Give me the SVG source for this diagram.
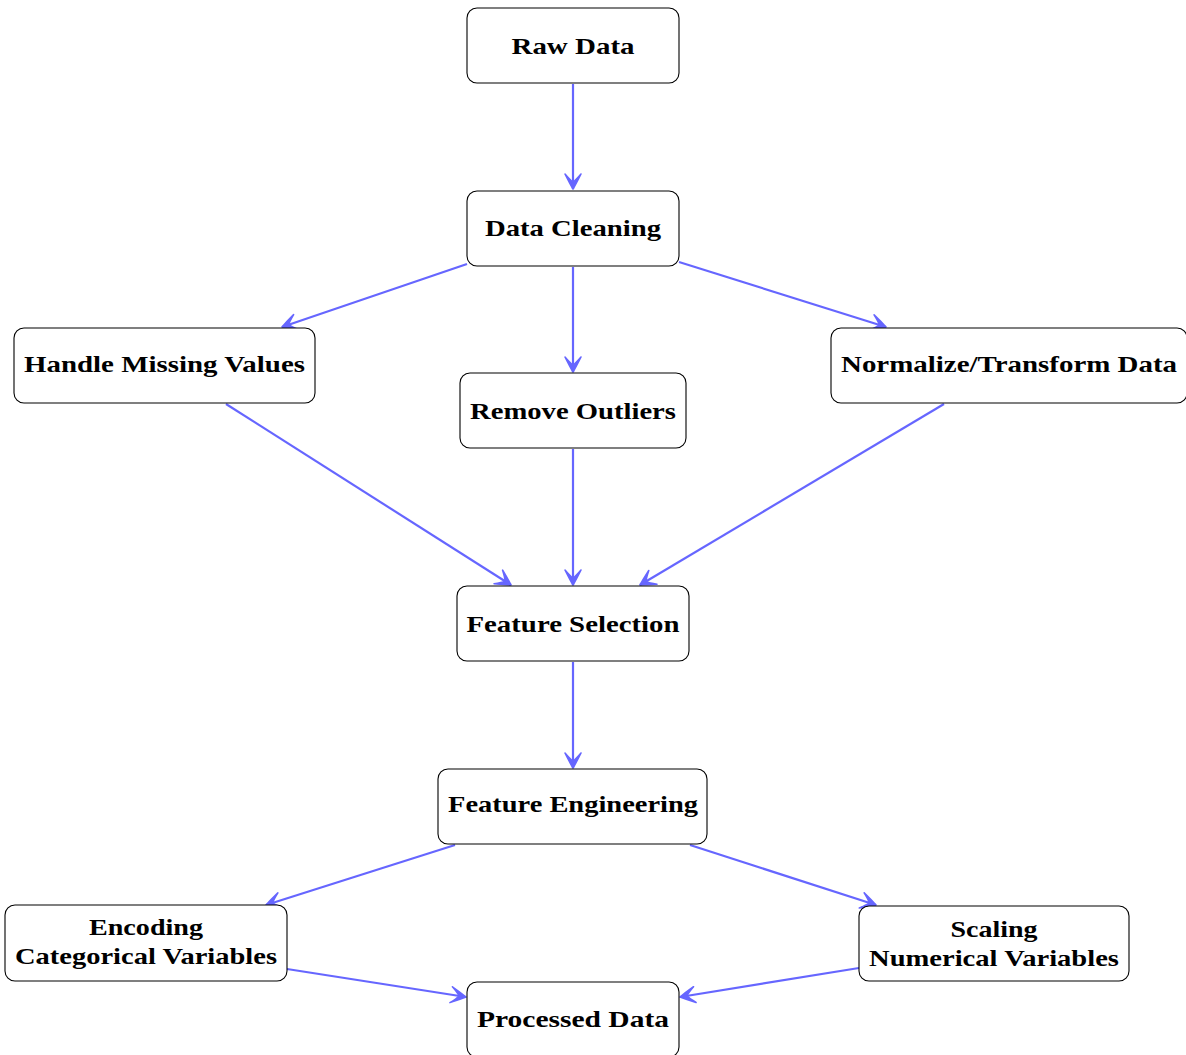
<svg xmlns="http://www.w3.org/2000/svg" width="1186" height="1055" viewBox="0 0 1186 1055">
<style>
.box{fill:#ffffff;stroke:#000000;stroke-width:1.1}
.lbl{font-family:"Liberation Serif","Times New Roman",serif;font-weight:bold;font-size:22.5px;fill:#000000;text-anchor:middle}
.edge{stroke:#6666ff;stroke-width:2.2;fill:none;marker-end:url(#ah)}
</style>
<defs>
<marker id="ah" markerUnits="userSpaceOnUse" markerWidth="24" markerHeight="24" viewBox="-20 -12 24 24" refX="0" refY="0" orient="auto" overflow="visible">
<path d="M0,0 Q-6,-3.5 -15,-8 Q-9,-3 -7,0 Q-9,3 -15,8 Q-6,3.5 0,0 Z" fill="#6666ff" stroke="#6666ff" stroke-width="1.6" stroke-linejoin="round"/>
</marker>
</defs>
<rect width="1186" height="1055" fill="#ffffff"/>
<g id="connectors">
<line class="edge" x1="573" y1="84" x2="573" y2="189"/>
<line class="edge" x1="467" y1="264" x2="282" y2="327"/>
<line class="edge" x1="573" y1="267" x2="573" y2="372"/>
<line class="edge" x1="679" y1="262" x2="886" y2="327"/>
<line class="edge" x1="226" y1="404" x2="511" y2="585"/>
<line class="edge" x1="573" y1="449" x2="573" y2="585"/>
<line class="edge" x1="944" y1="404" x2="640" y2="585"/>
<line class="edge" x1="573" y1="662" x2="573" y2="768"/>
<line class="edge" x1="455" y1="845" x2="266" y2="905"/>
<line class="edge" x1="690" y1="845" x2="876" y2="905"/>
<line class="edge" x1="287" y1="969" x2="466" y2="997"/>
<line class="edge" x1="859" y1="968" x2="680" y2="997"/>
</g>
<g id="raw-data">
<rect class="box" x="467" y="8" width="212" height="75" rx="10"/>
<text class="lbl" x="573" y="54" textLength="123" lengthAdjust="spacingAndGlyphs">Raw Data</text>
</g>
<g id="data-cleaning">
<rect class="box" x="467" y="191" width="212" height="75" rx="10"/>
<text class="lbl" x="573" y="236" textLength="176" lengthAdjust="spacingAndGlyphs">Data Cleaning</text>
</g>
<g id="handle-missing">
<rect class="box" x="14" y="328" width="301" height="75" rx="10"/>
<text class="lbl" x="164.5" y="372" textLength="281" lengthAdjust="spacingAndGlyphs">Handle Missing Values</text>
</g>
<g id="remove-outliers">
<rect class="box" x="460" y="373" width="226" height="75" rx="10"/>
<text class="lbl" x="573" y="419" textLength="206" lengthAdjust="spacingAndGlyphs">Remove Outliers</text>
</g>
<g id="normalize">
<rect class="box" x="831" y="328" width="356" height="75" rx="10"/>
<text class="lbl" x="1009" y="372" textLength="336" lengthAdjust="spacingAndGlyphs">Normalize/Transform Data</text>
</g>
<g id="feature-selection">
<rect class="box" x="457" y="586" width="232" height="75" rx="10"/>
<text class="lbl" x="573" y="632" textLength="213" lengthAdjust="spacingAndGlyphs">Feature Selection</text>
</g>
<g id="feature-engineering">
<rect class="box" x="438" y="769" width="269" height="75" rx="10"/>
<text class="lbl" x="573" y="812" textLength="250" lengthAdjust="spacingAndGlyphs">Feature Engineering</text>
</g>
<g id="encoding">
<rect class="box" x="5" y="905" width="282" height="76" rx="10"/>
<text class="lbl" x="146" y="935" textLength="114" lengthAdjust="spacingAndGlyphs">Encoding</text>
<text class="lbl" x="146" y="964" textLength="262" lengthAdjust="spacingAndGlyphs">Categorical Variables</text>
</g>
<g id="scaling">
<rect class="box" x="859" y="906" width="270" height="75" rx="10"/>
<text class="lbl" x="994" y="937" textLength="87" lengthAdjust="spacingAndGlyphs">Scaling</text>
<text class="lbl" x="994" y="966" textLength="250" lengthAdjust="spacingAndGlyphs">Numerical Variables</text>
</g>
<g id="processed-data">
<rect class="box" x="467" y="982" width="212" height="75" rx="10"/>
<text class="lbl" x="573" y="1027" textLength="192" lengthAdjust="spacingAndGlyphs">Processed Data</text>
</g>
</svg>
